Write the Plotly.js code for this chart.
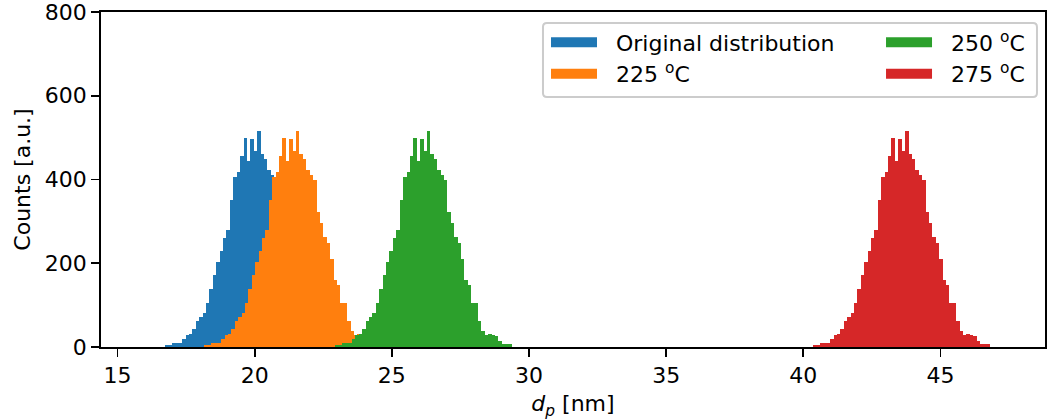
<!DOCTYPE html>
<html>
<head>
<meta charset="utf-8">
<script src="https://cdn.plot.ly/plotly-3.0.1.min.js"></script>
<style>
  html, body { margin: 0; padding: 0; background: #fff; }
  #chart { width: 1047px; height: 420px; }
</style>
</head>
<body>
<div id="chart"></div>
<script>
// Histogram counts per bin (52 bins); every heating step keeps the same
// count profile, the bins are just shifted along the diameter axis.
const binCounts = [5, 5, 10, 10, 10, 19, 29, 31, 43, 62, 72, 81, 105, 139, 172, 204,
  230, 261, 280, 352, 405, 417, 457, 498, 445, 496, 469, 515, 460, 450, 422, 410,
  400, 323, 297, 263, 249, 211, 160, 149, 105, 105, 62, 38, 29, 31, 29, 26, 14, 7, 7, 7];

// Series labels, left edge of the first bin (nm) and colours
const seriesNames = ['Original distribution', '225 <sup>o</sup>C', '250 <sup>o</sup>C', '275 <sup>o</sup>C'];
const binStarts = [16.74, 18.16, 22.93, 40.36];
const seriesColors = ['#1f77b4', '#ff7f0e', '#2ca02c', '#d62728'];
// two legend columns: first two series left, last two right
const legendColumn = ['legend', 'legend', 'legend2', 'legend2'];

const binWidth = 0.1241;

const font = 'DejaVu Sans, Verdana, sans-serif';
const pad = '\u00a0\u00a0';

const traces = [];
seriesNames.forEach((name, s) => {
  const centers = binCounts.map((_, i) => binStarts[s] + (i + 0.5) * binWidth);
  traces.push({
    type: 'bar',
    x: centers,
    y: binCounts,
    width: binWidth,
    name: name,
    showlegend: false,
    marker: { color: seriesColors[s], line: { width: 0 } },
    hoverinfo: 'x+y'
  });
});
// legend keys drawn as wide colour patches
seriesNames.forEach((name, s) => {
  traces.push({
    type: 'scatter',
    mode: 'lines',
    x: [null],
    y: [null],
    name: pad + name,
    legend: legendColumn[s],
    line: { color: seriesColors[s], width: 16 },
    hoverinfo: 'skip'
  });
});

// legend frame (paper coordinates), slightly rounded corners
const fx0 = 0.4682, fx1 = 0.9915, fy0 = 0.7463, fy1 = 0.9672;
const rx = 0.0042, ry = 0.0119;
const framePath =
  `M${fx0 + rx},${fy1} L${fx1 - rx},${fy1} Q${fx1},${fy1} ${fx1},${fy1 - ry} ` +
  `L${fx1},${fy0 + ry} Q${fx1},${fy0} ${fx1 - rx},${fy0} ` +
  `L${fx0 + rx},${fy0} Q${fx0},${fy0} ${fx0},${fy0 + ry} ` +
  `L${fx0},${fy1 - ry} Q${fx0},${fy1} ${fx0 + rx},${fy1} Z`;

const legendBase = {
  orientation: 'v',
  yanchor: 'top',
  xanchor: 'left',
  itemwidth: 46,
  bgcolor: 'rgba(0,0,0,0)',
  borderwidth: 0,
  font: { family: font, size: 22, color: '#000' }
};

const axisBase = {
  ticks: 'outside',
  ticklen: 8,
  tickwidth: 1.8,
  tickcolor: '#000',
  showline: true,
  linecolor: '#000',
  linewidth: 1.8,
  mirror: true,
  showgrid: false,
  zeroline: false,
  ticklabeloverflow: 'allow',
  tickfont: { family: font, size: 22, color: '#000' }
};

const layout = {
  width: 1047,
  height: 420,
  margin: { l: 101, r: 2, t: 12, b: 73, pad: 0 },
  paper_bgcolor: '#fff',
  plot_bgcolor: '#fff',
  barmode: 'overlay',
  bargap: 0,
  bargroupgap: 0,
  font: { family: font, size: 22, color: '#000' },
  xaxis: Object.assign({}, axisBase, {
    range: [14.40, 48.81],
    tickvals: [15, 20, 25, 30, 35, 40, 45],
    title: { text: '<i>d</i><sub><i>p</i></sub> [nm]', font: { family: font, size: 22, color: '#000' }, standoff: 12 }
  }),
  yaxis: Object.assign({}, axisBase, {
    range: [0, 800],
    tickvals: [0, 200, 400, 600, 800],
    title: { text: 'Counts [a.u.]', font: { family: font, size: 22, color: '#000' }, standoff: 8 }
  }),
  legend: Object.assign({}, legendBase, { x: 0.4714, y: 0.972 }),
  legend2: Object.assign({}, legendBase, { x: 0.8263, y: 0.972 }),
  shapes: [{
    type: 'path',
    xref: 'paper',
    yref: 'paper',
    path: framePath,
    fillcolor: 'rgba(255,255,255,0.8)',
    line: { color: '#cccccc', width: 2 },
    layer: 'above'
  }],
  showlegend: true
};

Plotly.newPlot('chart', traces, layout, { displayModeBar: false, staticPlot: true });
</script>
</body>
</html>
